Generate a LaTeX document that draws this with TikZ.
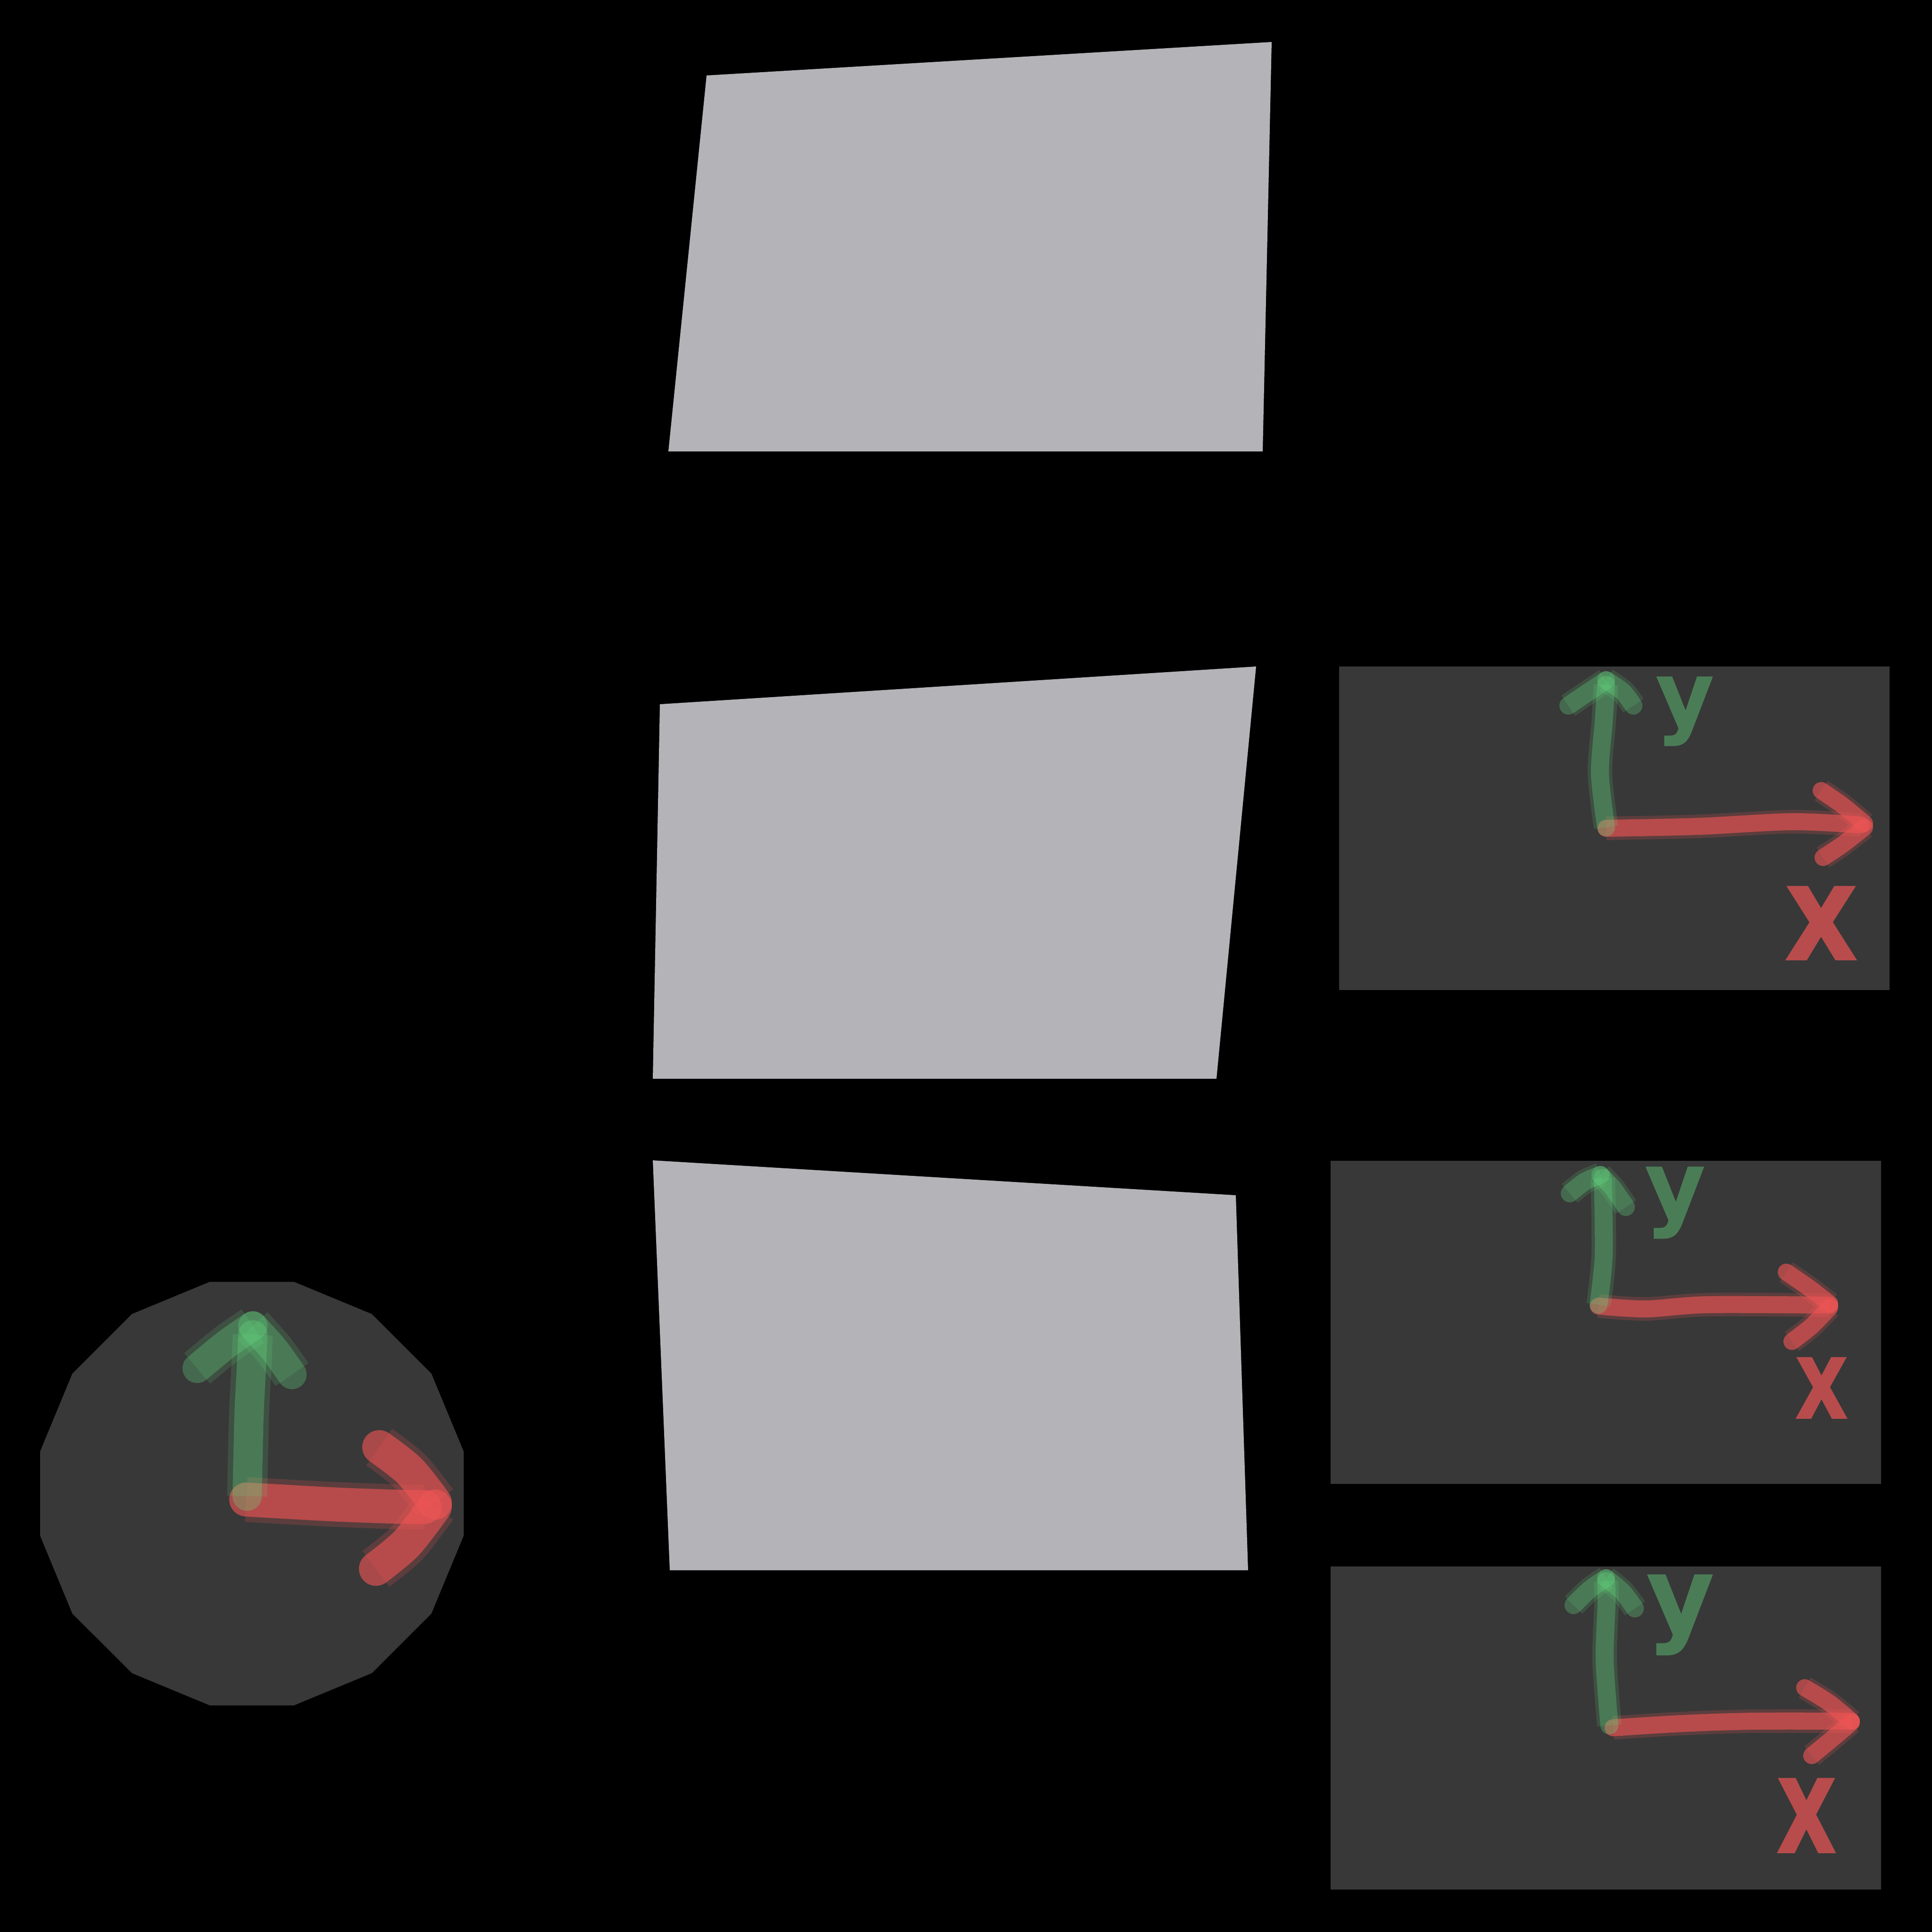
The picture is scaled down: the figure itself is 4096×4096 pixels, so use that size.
\documentclass[tikz,border=0pt]{standalone}
\usepackage{fontspec}
\usetikzlibrary{calc}
\newfontfamily\lblfont{DejaVu Sans}
\definecolor{panel}{RGB}{56,56,56}
\definecolor{sheet}{RGB}{180,179,184}
\definecolor{gax}{RGB}{101,221,129}
\definecolor{rax}{RGB}{239,85,85}
\begin{document}
\begin{tikzpicture}[x=0.01cm,y=-0.01cm,
  sheetfill/.style={fill=sheet},
  panelfill/.style={fill=panel},
  gstroke/.style={line cap=round, line join=round,
    preaction={draw=gax, draw opacity=0.15, line width=0.52cm},
    draw=gax, draw opacity=0.3, line width=0.38cm},
  rstroke/.style={line cap=round, line join=round,
    preaction={draw=rax, draw opacity=0.2, line width=0.5cm},
    draw=rax, draw opacity=0.62, line width=0.36cm},
  gbig/.style={line cap=round, line join=round,
    preaction={draw=gax, draw opacity=0.15, line width=0.85cm},
    draw=gax, draw opacity=0.3, line width=0.62cm},
  rbig/.style={line cap=round, line join=round,
    preaction={draw=rax, draw opacity=0.2, line width=0.95cm},
    draw=rax, draw opacity=0.62, line width=0.72cm},
  ylab/.style={inner sep=0pt, text=gax, text opacity=0.42},
  xlab/.style={inner sep=0pt, text=rax, text opacity=0.7}]
\useasboundingbox (0,0) rectangle (4096,4096);
\fill[black] (0,0) rectangle (4096,4096);
% sheets
\fill[sheetfill] (1498,160) -- (2696,89) -- (2677,957) -- (1417,957) -- cycle;
\fill[sheetfill] (1399,1493) -- (2663,1413) -- (2579,2287) -- (1384,2287) -- cycle;
\fill[sheetfill] (1384,2460) -- (2620,2534) -- (2646,3329) -- (1420,3329) -- cycle;
% panels
\fill[panelfill] (2839,1413) rectangle (4006,2099);
\fill[panelfill] (2821,2461) rectangle (3988,3146);
\fill[panelfill] (2821,3321) rectangle (3988,4006);
% 16-gon
\coordinate (gc) at (534,3166.5);
\fill[panelfill] ($(gc)+(11.25:457.8)$)
  \foreach \k in {1,...,15} { -- ($(gc)+(11.25+22.5*\k:457.8)$) } -- cycle;
% circle axes
\draw[rbig] plot[smooth] coordinates {(522,3179) (700,3189) (830,3194) (900,3195)};
\draw[rbig] plot[smooth] coordinates {(804,3068) (868,3118) (922,3186)};
\draw[rbig] plot[smooth] coordinates {(922,3194) (862,3272) (797,3326)};
\draw[gbig] plot[smooth] coordinates {(524,3172) (528,3000) (533,2900) (536,2830)};
\draw[gbig] plot[smooth] coordinates {(418,2901) (480,2850) (536,2811)};
\draw[gbig] plot[smooth] coordinates {(536,2811) (580,2860) (619,2914)};
% panel 1 axes
\draw[rstroke] plot[smooth] coordinates {(3405,1756) (3600,1752) (3800,1742) (3945,1749)};
\draw[rstroke] plot[smooth] coordinates {(3861,1676) (3907,1708) (3953,1746)};
\draw[rstroke] plot[smooth] coordinates {(3953,1754) (3907,1790) (3865,1818)};
\draw[gstroke] plot[smooth] coordinates {(3405,1754) (3392,1640) (3400,1530) (3405,1452)};
\draw[gstroke] plot[smooth] coordinates {(3325,1496) (3371,1465) (3405,1442)};
\draw[gstroke] plot[smooth] coordinates {(3405,1442) (3440,1466) (3463,1496)};
\node[ylab, font=\lblfont\bfseries\fontsize{55}{55}\selectfont] (y1) at (3572,1508) {y};
\node[xlab, xscale=0.86, font=\lblfont\bfseries\fontsize{82}{82}\selectfont] (x1) at (3861,1958) {x};
% panel 2 axes
\draw[rstroke] plot[smooth] coordinates {(3389,2769) (3490,2775) (3620,2766) (3879,2767)};
\draw[rstroke] plot[smooth] coordinates {(3787,2697) (3835,2730) (3879,2764)};
\draw[rstroke] plot[smooth] coordinates {(3879,2772) (3840,2812) (3799,2844)};
\draw[gstroke] plot[smooth] coordinates {(3389,2766) (3400,2660) (3398,2497)};
\draw[gstroke] plot[smooth] coordinates {(3328,2530) (3360,2505) (3393,2491)};
\draw[gstroke] plot[smooth] coordinates {(3393,2491) (3420,2520) (3447,2559)};
\node[ylab, font=\lblfont\bfseries\fontsize{57}{57}\selectfont] (y2) at (3552,2550) {y};
\node[xlab, xscale=0.75, font=\lblfont\bfseries\fontsize{68}{68}\selectfont] (x2) at (3862,2943) {x};
% panel 3 axes
\draw[rstroke] plot[smooth] coordinates {(3420,3663) (3565,3654) (3718,3649) (3925,3649)};
\draw[rstroke] plot[smooth] coordinates {(3826,3578) (3878,3610) (3925,3649)};
\draw[rstroke] plot[smooth] coordinates {(3925,3652) (3880,3690) (3841,3722)};
\draw[gstroke] plot[smooth] coordinates {(3412,3658) (3402,3520) (3406,3400) (3405,3352)};
\draw[gstroke] plot[smooth] coordinates {(3336,3403) (3370,3370) (3405,3346)};
\draw[gstroke] plot[smooth] coordinates {(3405,3346) (3440,3375) (3466,3410)};
\node[ylab, font=\lblfont\bfseries\fontsize{64}{64}\selectfont] (y3) at (3563,3424) {y};
\node[xlab, xscale=0.70, font=\lblfont\bfseries\fontsize{83}{83}\selectfont] (x3) at (3830,3850) {x};
\end{tikzpicture}
\end{document}
